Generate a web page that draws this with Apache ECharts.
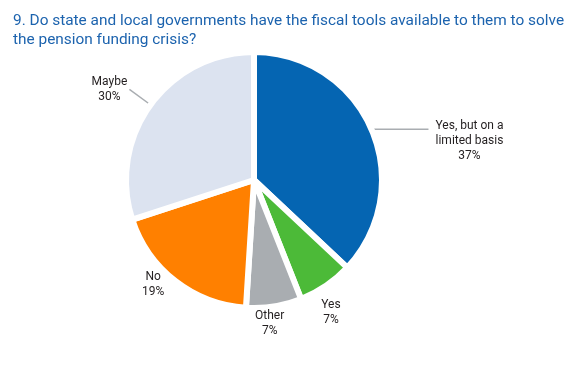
<!DOCTYPE html>
<html><head><meta charset="utf-8">
<script src="https://cdn.jsdelivr.net/npm/echarts@6/dist/echarts.min.js"></script>
<style>html,body{margin:0;padding:0;background:#fff}#c{width:585px;height:372px}</style>
</head><body><div id="c"></div>
<script>
const titleText = '9. Do state and local governments have the fiscal tools available to them to solve\nthe pension funding crisis?';
const categories = ['Yes, but on a\nlimited basis', 'Yes', 'Other', 'No', 'Maybe'];
const values = [37, 7, 7, 19, 30];
const colors = ['#0565b2', '#4cba38', '#a9adb1', '#ff8000', '#dce3f0'];

// label line settings: [length, length2, show line, box width, top padding]
const labelCfg = [[0, 57, true, 72, 24], [32, -33, false, 30, 0], [17, -27, false, 30, 0], [4, 0, false, 30, 0], [26, 0, true, 30, 0]];

const chart = echarts.init(document.getElementById('c'));
chart.setOption({
  animation: false,
  title: {
    text: titleText, left: 8, top: 7,
    textStyle: { color: '#1c63ae', fontSize: 15.4, fontWeight: 'normal', lineHeight: 19, fontFamily: 'Roboto' }
  },
  series: [{
    type: 'pie',
    center: [254, 180],
    radius: 128,
    startAngle: 90,
    clockwise: true,
    avoidLabelOverlap: false,
    itemStyle: { borderColor: '#fff', borderWidth: 6 },
    labelLine: { lineStyle: { color: '#a9adb1', width: 1.5 } },
    data: categories.map((c, i) => ({
      name: c, value: values[i],
      itemStyle: { color: colors[i] },
      label: {
        formatter: '{t|' + c.split('\n').concat([values[i] + '%']).join('}\n{t|') + '}',
        padding: [labelCfg[i][4], 0, 0, 0],
        rich: { t: { width: labelCfg[i][3], align: 'center', color: '#231f20', fontSize: 12, lineHeight: 15, fontFamily: 'Roboto' } }
      },
      labelLine: { show: labelCfg[i][2], length: labelCfg[i][0], length2: labelCfg[i][1] }
    }))
  }]
});
</script></body></html>
